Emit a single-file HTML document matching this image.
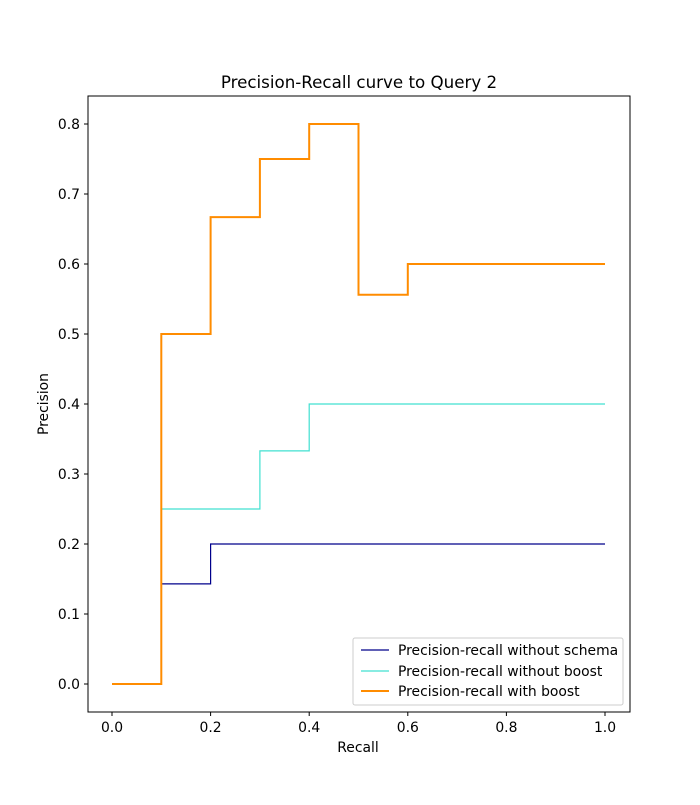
<!DOCTYPE html>
<html><head><meta charset="utf-8"><style>
body{margin:0;background:#fff;}
svg{font-family:"DejaVu Sans","Liberation Sans",sans-serif;}
</style></head><body>
<svg id="chart" width="700" height="800" xmlns="http://www.w3.org/2000/svg">
<rect width="700" height="800" fill="#fff"/>
<text x="359" y="88" font-size="16.7" text-anchor="middle">Precision-Recall curve to Query 2</text>
<g id="plot"></g>
<rect x="88" y="96" width="542" height="616" fill="none" stroke="#000" stroke-width="1"/>
<text x="358" y="752" font-size="13.9" text-anchor="middle">Recall</text>
<text x="48" y="404" font-size="13.9" text-anchor="middle" transform="rotate(-90 48 404)">Precision</text>
<g>
<rect x="353" y="638" width="270" height="67" fill="#fff" stroke="#ccc" rx="2"/>
<line x1="361" y1="650" x2="389" y2="650" stroke="#00008b" stroke-width="1.2"/>
<text x="398" y="655" font-size="13.9">Precision-recall without schema</text>
<line x1="361" y1="671" x2="389" y2="671" stroke="#40e0d0" stroke-width="1.2"/>
<text x="398" y="676" font-size="13.9">Precision-recall without boost</text>
<line x1="361" y1="691" x2="389" y2="691" stroke="#ff8c00" stroke-width="2"/>
<text x="398" y="696" font-size="13.9">Precision-recall with boost</text>
</g>
</svg>
<script>
const recall = [0, 0.1, 0.2, 0.3, 0.4, 0.5, 0.6, 1.0];
const precNoSchema = [0, 0.143, 0.2, 0.2, 0.2, 0.2, 0.2, 0.2];
const precNoBoost = [0, 0.25, 0.25, 0.333, 0.4, 0.4, 0.4, 0.4];
const precBoost = [0, 0.5, 0.667, 0.75, 0.8, 0.556, 0.6, 0.6];
const xTicks = [0.0, 0.2, 0.4, 0.6, 0.8, 1.0];
const yTicks = [0.0, 0.1, 0.2, 0.3, 0.4, 0.5, 0.6, 0.7, 0.8];

const NS = "http://www.w3.org/2000/svg";
const g = document.getElementById('plot');
function sx(v){return 112 + v*493;}
function sy(v){return 684 - v*700;}
function mk(t, a){const e=document.createElementNS(NS,t);for(const k in a)e.setAttribute(k,a[k]);g.appendChild(e);return e;}

xTicks.forEach(v=>{
  const l=mk('line',{x1:sx(v),x2:sx(v),y1:712,y2:716,stroke:'#000'});
  
  
  const t=mk('text',{x:sx(v),y:732,'font-size':13.9,'text-anchor':'middle'});
  t.textContent=v.toFixed(1);
  
  
});
yTicks.forEach(v=>{
  const l=mk('line',{x1:84,x2:88,y1:sy(v),y2:sy(v),stroke:'#000'});
  
  
  const t=mk('text',{x:80,y:sy(v)+5,'font-size':13.9,'text-anchor':'end'});
  t.textContent=v.toFixed(1);
  
  
});
function stepPath(xs, ys){
  let d='M'+sx(xs[0])+' '+sy(ys[0]);
  for(let i=1;i<xs.length;i++){
    d+=' L'+sx(xs[i])+' '+sy(ys[i-1])+' L'+sx(xs[i])+' '+sy(ys[i]);
  }
  return d;
}
const s1=mk('path',{d:stepPath(recall,precNoSchema),fill:'none',stroke:'#00008b','stroke-width':1.2});


const s2=mk('path',{d:stepPath(recall,precNoBoost),fill:'none',stroke:'#40e0d0','stroke-width':1.2});


const s3=mk('path',{d:stepPath(recall,precBoost),fill:'none',stroke:'#ff8c00','stroke-width':2});


</script>
</body></html>
